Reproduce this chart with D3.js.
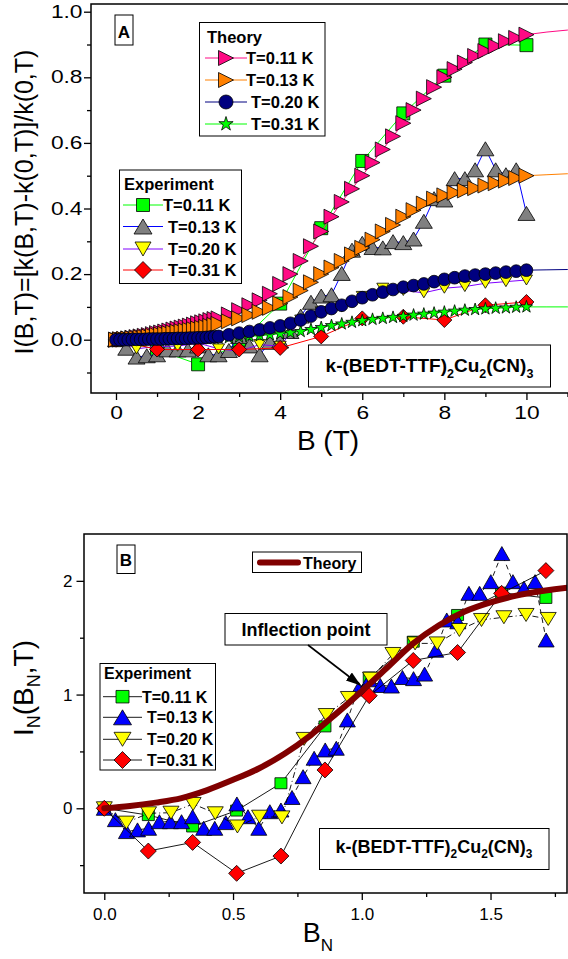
<!DOCTYPE html>
<html>
<head>
<meta charset="utf-8">
<script src="https://cdn.jsdelivr.net/npm/d3@7"></script>
<style>
  body { margin: 0; background: #fff; }
  svg text { font-family: "Liberation Sans", Arial, sans-serif; fill: #000; }
  .lg { font-weight: bold; font-size: 16.5px; }
  .lgB { font-weight: bold; font-size: 16px; }
</style>
</head>
<body>
<div class="chart"></div>
<script>
// ---------------- data: panel A (B in tesla) ----------------
// theory grid and curves
var thB = [0,0.1,0.2,0.3,0.4,0.5,0.6,0.7,0.8,0.9,1.0,1.1,1.2,1.3,1.4,1.5,1.6,1.7,1.8,1.9,2.0,2.1,2.2,2.3,2.4,
  2.5,2.75,3.0,3.25,3.5,3.75,4.0,4.25,4.5,4.75,5.0,5.25,5.5,5.75,6.0,6.25,6.5,6.75,7.0,7.25,7.5,7.75,8.0,8.25,8.5,8.75,9.0,9.25,9.5,9.75,10.0,
  10.5,11.0,11.5];
var thT011 = [0,0.001,0.002,0.004,0.006,0.008,0.010,0.012,0.014,0.017,0.020,0.022,0.025,0.028,0.031,0.034,0.037,0.040,0.043,0.046,0.050,0.053,0.056,0.060,0.063,
  0.065,0.077,0.090,0.105,0.120,0.140,0.170,0.200,0.240,0.285,0.330,0.375,0.420,0.460,0.500,0.540,0.580,0.620,0.660,0.700,0.735,0.770,0.800,0.825,0.845,0.865,0.880,0.895,0.910,0.920,0.930,
  0.938,0.944,0.950];
var thT013 = [0,0.001,0.002,0.003,0.004,0.005,0.007,0.008,0.010,0.012,0.014,0.016,0.018,0.020,0.022,0.024,0.026,0.028,0.030,0.032,0.034,0.036,0.039,0.042,0.045,
  0.048,0.056,0.065,0.075,0.085,0.097,0.110,0.130,0.150,0.175,0.200,0.220,0.240,0.260,0.280,0.305,0.330,0.350,0.375,0.395,0.415,0.430,0.440,0.448,0.455,0.462,0.470,0.477,0.485,0.493,0.500,
  0.503,0.506,0.509];
var thT020 = [0,0,0,0,0.001,0.001,0.001,0.001,0.002,0.002,0.002,0.002,0.003,0.003,0.003,0.004,0.004,0.004,0.005,0.005,0.006,0.006,0.007,0.008,0.009,
  0.010,0.015,0.020,0.025,0.030,0.036,0.042,0.050,0.060,0.072,0.085,0.095,0.105,0.117,0.128,0.137,0.145,0.153,0.160,0.165,0.170,0.177,0.184,0.189,0.194,0.197,0.200,0.203,0.206,0.209,0.212,
  0.213,0.214,0.215];
var thT031 = [0,0,0,0,0,0,0,0,0.001,0.001,0.001,0.001,0.001,0.002,0.002,0.002,0.002,0.002,0.003,0.003,0.003,0.003,0.004,0.004,0.004,
  0.005,0.006,0.008,0.010,0.012,0.015,0.018,0.021,0.025,0.031,0.037,0.043,0.048,0.053,0.058,0.062,0.065,0.068,0.071,0.075,0.078,0.081,0.084,0.087,0.090,0.092,0.094,0.096,0.097,0.099,0.100,
  0.100,0.100,0.100];

// experiment
var exB011 = [0,1,2,3,4,5,6,7,8,9,10];
var exI011 = [0,-0.03,-0.075,-0.01,0.11,0.34,0.545,0.69,0.805,0.90,0.898];
var exB013 = [0,0.25,0.5,0.75,1.0,1.25,1.5,1.75,2.0,2.25,2.5,2.75,3.0,3.25,3.5,3.75,4.0,4.25,4.5,4.75,
  5.0,5.25,5.5,5.75,6.0,6.25,6.5,6.75,7.0,7.25,7.5,7.75,8.0,8.25,8.5,8.75,9.0,9.25,9.5,9.75,10.0];
var exI013 = [0,-0.026,-0.053,-0.049,-0.046,-0.031,-0.031,-0.031,-0.019,-0.046,-0.046,-0.033,0.010,-0.019,-0.046,-0.008,-0.004,0.025,0.072,0.114,
  0.133,0.137,0.202,0.273,0.294,0.281,0.280,0.299,0.296,0.307,0.361,0.430,0.426,0.491,0.491,0.518,0.582,0.518,0.503,0.518,0.385];
var exB020 = [0,0.5,1,1.5,2,2.5,3,3.5,4,4.5,5,5.5,6,6.5,7,7.5,8,8.5,9,9.5,10];
var exI020 = [0,-0.028,-0.02,-0.02,-0.01,-0.028,-0.035,-0.015,-0.02,0.06,0.085,0.1,0.132,0.157,0.15,0.143,0.157,0.162,0.172,0.177,0.182];
var exB031 = [0,1,2,3,4,5,6,7,8,9,10];
var exI031 = [0,-0.03,-0.03,-0.03,-0.025,0.01,0.065,0.07,0.06,0.105,0.115];

// ---------------- data: panel B (normalised) ----------------
var thNB = [0,0.1,0.2,0.3,0.4,0.5,0.6,0.7,0.8,0.9,1.0,1.1,1.2,1.3,1.4,1.5,1.6,1.7,1.8,1.9];
var thNI = [0,0.02,0.05,0.09,0.16,0.25,0.35,0.48,0.64,0.83,1.03,1.24,1.45,1.61,1.73,1.81,1.87,1.91,1.94,1.96];

var nB011 = [0,0.171,0.343,0.514,0.686,0.857,1.029,1.2,1.372,1.543,1.715];
var nI011 = [0,-0.06,-0.16,-0.02,0.22,0.72,1.15,1.465,1.70,1.896,1.85];
var nB013 = [0,0.043,0.086,0.129,0.172,0.214,0.257,0.300,0.343,0.386,0.429,0.472,0.515,0.558,0.600,0.643,0.686,0.729,0.772,0.815,
  0.858,0.901,0.944,0.987,1.029,1.072,1.115,1.158,1.201,1.244,1.287,1.330,1.373,1.416,1.458,1.501,1.544,1.587,1.630,1.673,1.716];
var nI013 = [0,-0.10,-0.205,-0.19,-0.176,-0.118,-0.118,-0.118,-0.074,-0.176,-0.176,-0.126,0.038,-0.074,-0.176,-0.03,-0.015,0.095,0.278,0.44,
  0.513,0.528,0.777,1.05,1.13,1.08,1.075,1.15,1.14,1.18,1.39,1.656,1.64,1.89,1.89,1.993,2.24,1.993,1.935,1.993,1.48];
var nB020 = [0,0.086,0.172,0.259,0.345,0.431,0.517,0.603,0.690,0.776,0.862,0.948,1.034,1.121,1.207,1.293,1.379,1.465,1.552,1.638,1.724];
var nI020 = [0,-0.126,-0.044,-0.039,0.038,-0.044,-0.16,-0.074,-0.08,0.61,0.82,0.97,1.14,1.357,1.45,1.45,1.568,1.656,1.68,1.70,1.665];
var nB031 = [0,0.171,0.343,0.514,0.686,0.857,1.029,1.2,1.372,1.543,1.715];
var nI031 = [0,-0.376,-0.30,-0.572,-0.42,0.337,0.99,1.30,1.37,1.89,2.09];

// labels / ticks
var tLabels = ["T=0.11 K", "T=0.13 K", "T=0.20 K", "T=0.31 K"];
var xTicksA = [0, 2, 4, 6, 8, 10], xMinorA = [1, 3, 5, 7, 9, 11];
var yTicksA = [0, 0.2, 0.4, 0.6, 0.8, 1.0], yMinorA = [-0.1, 0.1, 0.3, 0.5, 0.7, 0.9];
var xTicksB = [0, 0.5, 1.0, 1.5], xMinorB = [0.25, 0.75, 1.25, 1.75];
var yTicksB = [0, 1, 2], yMinorB = [-0.5, 0.5, 1.5];

// ---------------- helpers ----------------
function markerPath(shape, w, h) {
    h = h || w;
    switch (shape) {
        case "square": return `M${-w/2},${-h/2}H${w/2}V${h/2}H${-w/2}Z`;
        case "diamond": return `M0,${-h/2}L${w/2},0L0,${h/2}L${-w/2},0Z`;
        case "up": return `M0,${-h/2}L${w/2},${h/2}L${-w/2},${h/2}Z`;
        case "down": return `M${-w/2},${-h/2}L${w/2},${-h/2}L0,${h/2}Z`;
        case "right": return `M${-w/2},${-h/2}L${w/2},0L${-w/2},${h/2}Z`;
        case "circle": return d3.symbol(d3.symbolCircle, Math.PI * w * w / 4)();
        case "star": return d3.symbol(d3.symbolStar, (w / 2) * (w / 2) / 0.8908)();
    }
}

function plotSeries(g, xs, ys, x, y, s) {
    var pts = xs.map(function (b, i) { return [b, ys[i]]; });
    if (s.line) {
        g.append("path").datum(pts)
            .attr("clip-path", s.clip || null)
            .attr("fill", "none")
            .attr("stroke", s.line)
            .attr("stroke-width", s.lw || 1)
            .attr("stroke-dasharray", s.dash || null)
            .attr("stroke-linecap", s.cap || "butt")
            .attr("d", d3.line().curve(s.curve || d3.curveLinear).x(d => x(d[0])).y(d => y(d[1])));
    }
    if (s.shape) {
        var maxX = s.maxX == null ? Infinity : s.maxX;
        g.append("g").selectAll("path")
            .data(pts.filter(d => d[0] <= maxX))
            .enter()
            .append("path")
            .attr("transform", d => `translate(${x(d[0])},${y(d[1])})`)
            .attr("d", markerPath(s.shape, s.w, s.h))
            .attr("fill", s.fill)
            .attr("stroke", "#000")
            .attr("stroke-width", 0.8);
    }
}

function legendRow(g, x1, x2, cy, s, label, tx, cls) {
    g.append("line").attr("x1", x1).attr("x2", x2).attr("y1", cy).attr("y2", cy)
        .attr("stroke", s.line).attr("stroke-width", s.lw || 1)
        .attr("stroke-dasharray", s.dash || null)
        .attr("stroke-linecap", s.cap || "butt");
    if (s.shape) {
        g.append("path").attr("transform", `translate(${(x1 + x2) / 2},${cy})`)
            .attr("d", markerPath(s.shape, s.lw2 || s.w, s.lh2 || s.h))
            .attr("fill", s.fill).attr("stroke", "#000").attr("stroke-width", 0.8);
    }
    g.append("text").attr("class", cls).attr("x", tx).attr("y", cy + 6).text(label);
}

function box(g, x, y, w, h) {
    return g.append("rect").attr("x", x).attr("y", y).attr("width", w).attr("height", h)
        .attr("fill", "#fff").attr("stroke", "#000").attr("stroke-width", 1);
}

function formula(g, cx, base, size) {
    var t = g.append("text").attr("x", cx).attr("y", base).attr("text-anchor", "middle")
        .attr("font-weight", "bold").attr("font-size", size);
    var sub = size * 0.66, d = size * 0.3;
    t.append("tspan").text("k-(BEDT-TTF)");
    t.append("tspan").attr("dy", d).attr("font-size", sub).text("2");
    t.append("tspan").attr("dy", -d).text("Cu");
    t.append("tspan").attr("dy", d).attr("font-size", sub).text("2");
    t.append("tspan").attr("dy", -d).text("(CN)");
    t.append("tspan").attr("dy", d).attr("font-size", sub).text("3");
}

function styleAxis(g) {
    g.select(".domain").remove();
    g.selectAll(".tick line").attr("stroke", "#000").attr("stroke-width", 1.3);
}

var svg = d3.select(".chart").append("svg").attr("width", 568).attr("height", 959);
var defs = svg.append("defs");

// ================= PANEL A =================
var A = {left: 91, right: 572, top: 4, bottom: 393};
var xA = d3.scaleLinear().domain([-0.609, 11.11]).range([A.left, A.right]);
var yA = d3.scaleLinear().domain([-0.1625, 1.0235]).range([A.bottom, A.top]);

defs.append("clipPath").attr("id", "clipA").append("rect")
    .attr("x", A.left).attr("y", A.top).attr("width", A.right - A.left).attr("height", A.bottom - A.top);

// axes
svg.append("g").attr("transform", `translate(0,${A.bottom})`)
    .call(d3.axisBottom(xA).tickValues(xTicksA).tickSize(7).tickPadding(7).tickFormat(d3.format("d")))
    .call(styleAxis)
    .selectAll("text").attr("font-size", 17.5).attr("transform", "scale(1.3,1)");
svg.append("g").attr("transform", `translate(0,${A.bottom})`)
    .call(d3.axisBottom(xA).tickValues(xMinorA).tickSize(4).tickFormat(""))
    .call(styleAxis);
svg.append("g").attr("transform", `translate(${A.left},0)`)
    .call(d3.axisLeft(yA).tickValues(yTicksA).tickSize(7).tickFormat(d3.format(".1f")))
    .call(styleAxis)
    .selectAll("text").attr("font-size", 17.5).attr("x", -8.5 / 1.3).attr("transform", "scale(1.3,1)");
svg.append("g").attr("transform", `translate(${A.left},0)`)
    .call(d3.axisLeft(yA).tickValues(yMinorA).tickSize(4).tickFormat(""))
    .call(styleAxis);
svg.selectAll(".tick text").attr("font-family", null);

// axis titles
svg.append("text").attr("transform", "translate(33,202) rotate(-90)")
    .attr("text-anchor", "middle").attr("font-size", 25)
    .text("I(B,T)=[k(B,T)-k(0,T)]/k(0,T)");
svg.append("text").attr("x", 328).attr("y", 450).attr("text-anchor", "middle")
    .attr("font-size", 28).text("B (T)");

// experiment series
var sA = {
    e011: {shape: "square", w: 13, fill: "#00ff00", line: "#00ff00", clip: "url(#clipA)"},
    e013: {shape: "up", w: 17, h: 14, fill: "#808080", line: "#0000ff", clip: "url(#clipA)"},
    e020: {shape: "down", w: 12, h: 10, fill: "#ffff00", line: "#8000ff", clip: "url(#clipA)"},
    e031: {shape: "diamond", w: 15, fill: "#ff0000", line: "#ff0000", clip: "url(#clipA)"},
    t011: {shape: "right", w: 15, h: 15, fill: "#ff0a84", line: "#ff0a84", maxX: 10, clip: "url(#clipA)"},
    t013: {shape: "right", w: 15, h: 15, fill: "#ff8000", line: "#ff8000", maxX: 10, clip: "url(#clipA)"},
    t020: {shape: "circle", w: 12.7, fill: "#000080", line: "#000080", maxX: 10, clip: "url(#clipA)"},
    t031: {shape: "star", w: 13, fill: "#00ff00", line: "#00ff00", maxX: 10, clip: "url(#clipA)"}
};
var gA = svg.append("g");
plotSeries(gA, exB011, exI011, xA, yA, sA.e011);
plotSeries(gA, exB013, exI013, xA, yA, sA.e013);
plotSeries(gA, exB020, exI020, xA, yA, sA.e020);
plotSeries(gA, exB031, exI031, xA, yA, sA.e031);
plotSeries(gA, thB, thT011, xA, yA, sA.t011);
plotSeries(gA, thB, thT013, xA, yA, sA.t013);
plotSeries(gA, thB, thT031, xA, yA, sA.t031);
plotSeries(gA, thB, thT020, xA, yA, sA.t020);

// frame
svg.append("rect").attr("x", A.left).attr("y", A.top)
    .attr("width", A.right - A.left).attr("height", A.bottom - A.top)
    .attr("fill", "none").attr("stroke", "#000").attr("stroke-width", 1.5);

// "A" tag
box(svg, 115, 15, 18, 30);
svg.append("text").attr("x", 124).attr("y", 37.5).attr("text-anchor", "middle")
    .attr("font-weight", "bold").attr("font-size", 17).text("A");

// theory legend
var lt = svg.append("g");
box(lt, 199.5, 22.5, 125.5, 113.5);
lt.append("text").attr("class", "lg").attr("x", 207).attr("y", 43).text("Theory");
legendRow(lt, 205, 247, 58, sA.t011, tLabels[0], 246, "lg");
legendRow(lt, 205, 247, 80, sA.t013, tLabels[1], 246, "lg");
legendRow(lt, 205, 247, 102, Object.assign({}, sA.t020, {lw2: 14}), tLabels[2], 251, "lg");
legendRow(lt, 205, 247, 124, Object.assign({}, sA.t031, {lw2: 15}), tLabels[3], 251, "lg");

// experiment legend
var le = svg.append("g");
box(le, 119.5, 170, 122, 113.5);
le.append("text").attr("class", "lg").attr("x", 124).attr("y", 190).text("Experiment");
legendRow(le, 123, 163, 205, Object.assign({}, sA.e011, {lw2: 13}), tLabels[0], 163, "lg");
legendRow(le, 123, 163, 226.5, Object.assign({}, sA.e013, {lw2: 18, lh2: 15}), tLabels[1], 168, "lg");
legendRow(le, 123, 163, 249, Object.assign({}, sA.e020, {lw2: 16, lh2: 14}), tLabels[2], 168, "lg");
legendRow(le, 123, 163, 270, Object.assign({}, sA.e031, {lw2: 17}), tLabels[3], 168, "lg");

// compound label
box(svg, 308.5, 345, 242, 42);
formula(svg, 429.5, 372, 19);

// ================= PANEL B =================
var B = {left: 84, right: 567, top: 534, bottom: 893};
var xB = d3.scaleLinear().domain([-0.0788, 1.797]).range([B.left, B.right]);
var yB = d3.scaleLinear().domain([-0.745, 2.412]).range([B.bottom, B.top]);

defs.append("clipPath").attr("id", "clipB").append("rect")
    .attr("x", B.left).attr("y", B.top).attr("width", B.right - B.left).attr("height", B.bottom - B.top);

svg.append("g").attr("transform", `translate(0,${B.bottom})`)
    .call(d3.axisBottom(xB).tickValues(xTicksB).tickSize(7).tickPadding(8).tickFormat(d3.format(".1f")))
    .call(styleAxis)
    .selectAll("text").attr("font-size", 17);
svg.append("g").attr("transform", `translate(0,${B.bottom})`)
    .call(d3.axisBottom(xB).tickValues(xMinorB).tickSize(4).tickFormat(""))
    .call(styleAxis);
svg.append("g").attr("transform", `translate(${B.left},0)`)
    .call(d3.axisLeft(yB).tickValues(yTicksB).tickSize(7.5).tickPadding(4).tickFormat(d3.format("d")))
    .call(styleAxis)
    .selectAll("text").attr("font-size", 17);
svg.append("g").attr("transform", `translate(${B.left},0)`)
    .call(d3.axisLeft(yB).tickValues(yMinorB).tickSize(4).tickFormat(""))
    .call(styleAxis);
svg.selectAll(".tick text").attr("font-family", null);

// axis titles with subscripts
var yt = svg.append("text").attr("transform", "translate(33,688) rotate(-90)")
    .attr("text-anchor", "middle").attr("font-size", 28);
yt.append("tspan").text("I");
yt.append("tspan").attr("dy", 7).attr("font-size", 18).text("N");
yt.append("tspan").attr("dy", -7).text("(B");
yt.append("tspan").attr("dy", 7).attr("font-size", 18).text("N");
yt.append("tspan").attr("dy", -7).text(",T)");
var xt = svg.append("text").attr("x", 318).attr("y", 942).attr("text-anchor", "middle").attr("font-size", 27);
xt.append("tspan").text("B");
xt.append("tspan").attr("dy", 9).attr("font-size", 17).text("N");

var sB = {
    e011: {shape: "square", w: 12, h: 11, fill: "#00ff00", line: "#000", lw: 0.9},
    e013: {shape: "up", w: 16, h: 14, fill: "#0000ff", line: "#000", lw: 0.9, dash: "5,4"},
    e020: {shape: "down", w: 16, h: 13, fill: "#ffff00", line: "#000", lw: 0.9, dash: "6,3,1,3"},
    e031: {shape: "diamond", w: 16, fill: "#ff0000", line: "#000", lw: 0.9},
    th: {line: "#800000", lw: 6, cap: "round", curve: d3.curveMonotoneX, clip: "url(#clipB)"}
};
var gB = svg.append("g");
plotSeries(gB, nB011, nI011, xB, yB, sB.e011);
plotSeries(gB, nB013, nI013, xB, yB, sB.e013);
plotSeries(gB, nB020, nI020, xB, yB, sB.e020);
plotSeries(gB, nB031, nI031, xB, yB, sB.e031);
plotSeries(gB, thNB, thNI, xB, yB, sB.th);

svg.append("rect").attr("x", B.left).attr("y", B.top)
    .attr("width", B.right - B.left).attr("height", B.bottom - B.top)
    .attr("fill", "none").attr("stroke", "#000").attr("stroke-width", 1.5);

// "B" tag
box(svg, 117, 545, 18, 28.5);
svg.append("text").attr("x", 126).attr("y", 565.5).attr("text-anchor", "middle")
    .attr("font-weight", "bold").attr("font-size", 17).text("B");

// theory legend
var lb = svg.append("g");
box(lb, 252.5, 552, 109, 20.5);
legendRow(lb, 260, 298, 562.5, sB.th, "Theory", 303, "lgB");

// inflection point
box(svg, 225, 613.5, 162, 31.5);
svg.append("text").attr("x", 306).attr("y", 635.5).attr("text-anchor", "middle")
    .attr("font-weight", "bold").attr("font-size", 18).text("Inflection point");
defs.append("marker").attr("id", "arrow").attr("markerUnits", "userSpaceOnUse")
    .attr("markerWidth", 16).attr("markerHeight", 12).attr("refX", 14).attr("refY", 5)
    .attr("orient", "auto")
    .append("path").attr("d", "M0,0L15,5L0,10Z").attr("fill", "#000");
svg.append("line").attr("x1", 308).attr("y1", 645).attr("x2", 360).attr("y2", 685)
    .attr("stroke", "#000").attr("stroke-width", 1.6).attr("marker-end", "url(#arrow)");

// experiment legend
var lbe = svg.append("g");
box(lbe, 100, 663.5, 115.5, 106.5);
lbe.append("text").attr("class", "lgB").attr("x", 104).attr("y", 679).text("Experiment");
legendRow(lbe, 103, 142, 696.7, Object.assign({}, sB.e011, {dash: null, lw2: 13, lh2: 12.5}), tLabels[0], 142, "lgB");
legendRow(lbe, 103, 142, 717.3, Object.assign({}, sB.e013, {dash: null, lw2: 18, lh2: 15}), tLabels[1], 147, "lgB");
legendRow(lbe, 103, 142, 739.3, Object.assign({}, sB.e020, {dash: null, lw2: 17, lh2: 14}), tLabels[2], 147, "lgB");
legendRow(lbe, 103, 142, 760, Object.assign({}, sB.e031, {dash: null, lw2: 17}), tLabels[3], 147, "lgB");

// compound label
box(svg, 319.5, 828.5, 229.5, 41);
formula(svg, 434, 853, 18);
</script>
</body>
</html>
